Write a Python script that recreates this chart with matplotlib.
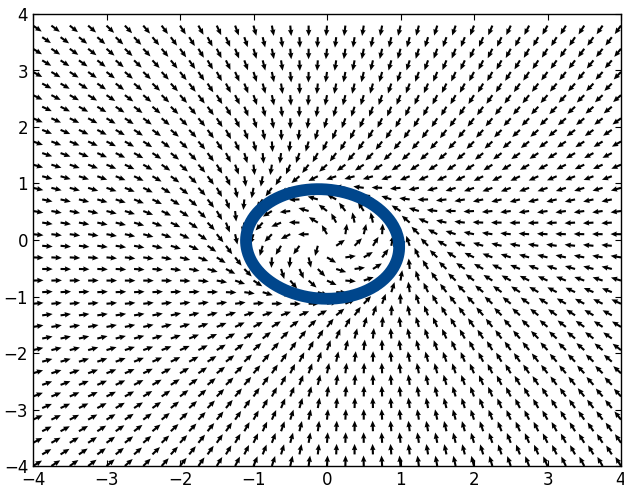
import numpy as np
import matplotlib
matplotlib.use("Agg")
import matplotlib.pyplot as plt

# ---- data ----
x_limits = [-4, 4]
y_limits = [-4, 4]
x_ticks = [-4, -3, -2, -1, 0, 1, 2, 3, 4]
y_ticks = [-4, -3, -2, -1, 0, 1, 2, 3, 4]
n_rows = 39            # rows of arrows from y=-4 upward, spacing 8/39
row_step = 8 / 39
col_step = 0.25        # spacing of arrows within a row (rows are staggered by half)
# limit cycle (closed orbit): centre, semi-axes, shear
cycle_center = [-0.06, -0.07]
cycle_axes = [1.04, 0.97]
cycle_shear = [-0.06, 0.0]
cycle_color = "#00468c"
# far-field skew of the arrows (degrees, left side
# flatter, right side steeper than purely radial)
far_skew_deg = 12.0

M = np.array([[cycle_axes[0], cycle_shear[0]],
              [cycle_shear[1], cycle_axes[1]]])
Minv = np.linalg.inv(M)


def field(x, y):
    """Vector field with a stable limit cycle on the drawn ellipse."""
    px = x - cycle_center[0]
    py = y - cycle_center[1]
    u = Minv[0, 0] * px + Minv[0, 1] * py
    v = Minv[1, 0] * px + Minv[1, 1] * py
    rho2 = u ** 2 + v ** 2
    du = -v + u * (1 - rho2)
    dv = u + v * (1 - rho2)
    dx = M[0, 0] * du + M[0, 1] * dv
    dy = M[1, 0] * du + M[1, 1] * dv
    # skew of the far field
    th = np.arctan2(y, x)
    rho = np.sqrt(rho2)
    w = np.clip((rho - 1.3) / 1.5, 0, 1)
    d = np.deg2rad(far_skew_deg) * 2 * np.sin(th) * np.abs(np.cos(th)) * w
    c, s = np.cos(d), np.sin(d)
    return c * dx - s * dy, s * dx + c * dy


# staggered grid of arrow positions
X, Y = [], []
for k in range(n_rows):
    yy = y_limits[0] + k * row_step
    if k % 2 == 0:
        xs = np.arange(x_limits[0], x_limits[1] + 1e-9, col_step)
    else:
        xs = np.arange(x_limits[0] + col_step / 2, x_limits[1], col_step)
    X.extend(xs)
    Y.extend([yy] * len(xs))
X = np.array(X)
Y = np.array(Y)
U, V = field(X, Y)
N = np.hypot(U, V)
N[N == 0] = 1
U, V = U / N, V / N

t = np.linspace(0, 2 * np.pi, 400)
cx = cycle_center[0] + M[0, 0] * np.cos(t) + M[0, 1] * np.sin(t)
cy = cycle_center[1] + M[1, 0] * np.cos(t) + M[1, 1] * np.sin(t)

fig = plt.figure(figsize=(6.24, 4.90), dpi=100)
ax = fig.add_axes([33 / 624, 24 / 490, 588 / 624, 452 / 490])
ax.quiver(X, Y, U, V, pivot="tail", units="dots", scale_units="dots",
          scale=0.095, width=2.1, headwidth=2.6, headlength=3.0,
          headaxislength=2.8, color="black")
ax.plot(cx, cy, color=cycle_color, lw=8.5, solid_capstyle="round")
ax.set_xlim(x_limits)
ax.set_ylim(y_limits)
ax.set_xticks(x_ticks)
ax.set_yticks(y_ticks)
ax.tick_params(direction="in", top=True, right=True, length=4, labelsize=12)
for s in ax.spines.values():
    s.set_linewidth(1.0)
fig.savefig("out.png", dpi=100)
